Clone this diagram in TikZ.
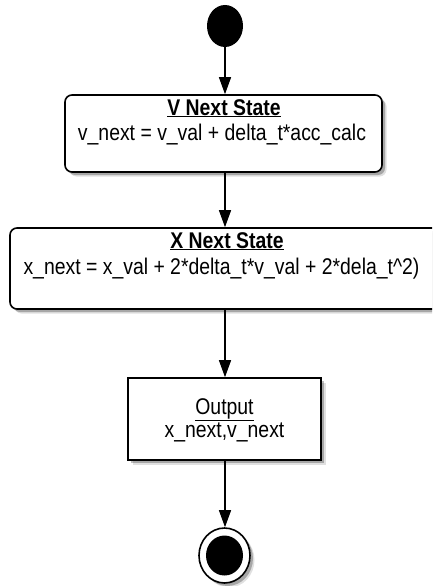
\documentclass[tikz,border=0pt]{standalone}
\usepackage{fontspec}
\setmainfont[FakeStretch=0.855]{Liberation Sans}
\usetikzlibrary{arrows.meta,shapes.geometric,shadows}

\begin{document}
\begin{tikzpicture}[x=1pt,y=-1pt,
  font=\fontsize{22.7}{27}\selectfont,
  softshadow/.style={
    general shadow={shadow xshift=4.5pt,shadow yshift=-4.5pt,fill=black,opacity=.12},
    general shadow={shadow xshift=3pt,shadow yshift=-3pt,fill=black,opacity=.25}},
  statebox/.style={draw,line width=1.6pt,fill=white,rounded corners=7pt,
    inner sep=0pt,softshadow},
  plainbox/.style={draw,line width=1.6pt,fill=white,inner sep=0pt,softshadow},
  startdot/.style={ellipse,fill=black,inner sep=0pt,minimum width=36pt,minimum height=42pt},
  enddot/.style={ellipse,draw,line width=1.6pt,fill=white,inner sep=0pt,
    minimum width=51pt,minimum height=55pt,softshadow},
  enddotcore/.style={ellipse,fill=black,inner sep=0pt,minimum width=37pt,minimum height=40pt},
  flow/.style={-{Triangle[width=12pt,length=17pt]},line width=1.3pt},
  txt/.style={anchor=base,inner sep=0pt}]

\clip (0,0) rectangle (432,586);
\fill[white] (0,0) rectangle (432,586);

% states
\node[startdot] (start) at (225,26) {};
\node[statebox,minimum width=317pt,minimum height=77pt] (vbox) at (223.5,133.5) {};
\node[statebox,minimum width=430pt,minimum height=81pt] (xbox) at (225,268.5) {};
\node[plainbox,minimum width=193pt,minimum height=82pt] (obox) at (224.5,419) {};
\node[enddot] (stop) at (224.5,555.5) {};
\node[enddotcore] (stopcore) at (224.5,555.5) {};

% labels
\node[txt] (vtitle) at (224,115) {\textbf{\underline{V Next State}}};
\node[txt] (vbody) at (222,140) {v\_next = v\_val + delta\_t*acc\_calc};
\node[txt] (xtitle) at (227,248) {\textbf{\underline{X Next State}}};
\node[txt] (xbody) at (221.5,274) {x\_next = x\_val + 2*delta\_t*v\_val + 2*dela\_t\^{}2)};
\node[txt] (otitle) at (224.5,414) {\underline{Output}};
\node[txt] (obody) at (224.5,437) {x\_next,v\_next};

% transitions
\draw[flow] (start) -- (start |- vbox.north);
\draw[flow] (start |- vbox.south) -- (start |- xbox.north);
\draw[flow] (start |- xbox.south) -- (start |- obox.north);
\draw[flow] (start |- obox.south) -- (start |- stop.north);
\end{tikzpicture}
\end{document}
